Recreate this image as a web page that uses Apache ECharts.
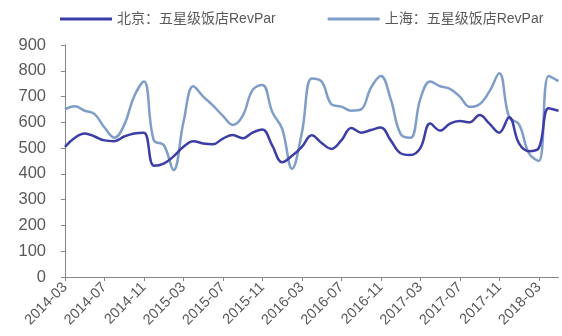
<!DOCTYPE html>
<html>
<head>
<meta charset="utf-8">
<script src="https://cdn.jsdelivr.net/npm/echarts@6/dist/echarts.min.js"></script>
<style>
  html, body { margin: 0; padding: 0; background: #ffffff; }
  #chart { width: 562px; height: 336px; }
</style>
</head>
<body>
<div id="chart"></div>
<script>
// Monthly RevPar of five-star hotels in Beijing and Shanghai, 2014-03 to 2018-05
const months = [
  '2014-03', '2014-04', '2014-05', '2014-06', '2014-07', '2014-08', '2014-09', '2014-10', '2014-11', '2014-12',
  '2015-01', '2015-02', '2015-03', '2015-04', '2015-05', '2015-06', '2015-07', '2015-08', '2015-09', '2015-10',
  '2015-11', '2015-12', '2016-01', '2016-02', '2016-03', '2016-04', '2016-05', '2016-06', '2016-07', '2016-08',
  '2016-09', '2016-10', '2016-11', '2016-12', '2017-01', '2017-02', '2017-03', '2017-04', '2017-05', '2017-06',
  '2017-07', '2017-08', '2017-09', '2017-10', '2017-11', '2017-12', '2018-01', '2018-02', '2018-03', '2018-04',
  '2018-05'
];

const beijingName = '北京：五星级饭店RevPar';
const shanghaiName = '上海：五星级饭店RevPar';

const beijingRevPar = [
  505, 540, 557, 545, 530, 527, 545, 557, 560, 432,
  440, 468, 505, 527, 518, 515, 537, 551, 538, 560,
  572, 510, 445, 470, 505, 550, 520, 497, 530, 578,
  560, 570, 580, 530, 480, 473, 500, 595, 568, 595,
  605, 600, 628, 595, 560, 620, 518, 488, 500, 655,
  645
];

const shanghaiRevPar = [
  650, 662, 645, 632, 580, 540, 590, 700, 758, 530,
  512, 415, 600, 740, 700, 665, 625, 590, 625, 725,
  745, 640, 575, 420, 560, 770, 758, 670, 661, 645,
  650, 735, 780, 690, 555, 540, 690, 758, 740, 730,
  700, 660, 670, 720, 790, 620, 592, 480, 450, 780,
  760
];

// y axis: 0 to 900 in steps of 100
const yMin = 0;
const yMax = 900;
const yStep = 100;

const chart = echarts.init(document.getElementById('chart'), null, { renderer: 'canvas' });

const textColor = '#595959';
const axisColor = '#868686';
const font = 'Arial, "Liberation Sans", "Noto Sans CJK SC", sans-serif';

chart.setOption({
  animation: false,
  backgroundColor: '#ffffff',
  legend: {
    top: 7,
    left: 55,
    right: 0,
    itemWidth: 52,
    itemHeight: 3,
    itemGap: 52,
    icon: 'rect',
    textStyle: { color: textColor, fontSize: 14, fontFamily: font },
    data: [beijingName, shanghaiName]
  },
  grid: { left: 65, right: 3.5, top: 45, bottom: 59, containLabel: false },
  xAxis: {
    type: 'category',
    boundaryGap: false,
    data: months,
    axisLine: { lineStyle: { color: axisColor, width: 1 } },
    axisTick: { interval: 3, length: 4, lineStyle: { color: axisColor } },
    axisLabel: {
      interval: 3,
      rotate: 45,
      color: textColor,
      fontSize: 14.5,
      fontFamily: font,
      margin: 8
    },
    splitLine: { show: false }
  },
  yAxis: {
    type: 'value',
    min: yMin,
    max: yMax,
    interval: yStep,
    axisLine: { show: true, lineStyle: { color: axisColor, width: 1 } },
    axisTick: { show: true, length: 4, lineStyle: { color: axisColor } },
    axisLabel: { color: textColor, fontSize: 16.5, fontFamily: font, margin: 19 },
    splitLine: { show: false }
  },
  series: [
    {
      name: beijingName,
      type: 'line',
      data: beijingRevPar,
      smooth: 0.4,
      showSymbol: false,
      lineStyle: { color: '#3d3da6', width: 2.5 },
      itemStyle: { color: '#3d3da6' },
      z: 3
    },
    {
      name: shanghaiName,
      type: 'line',
      data: shanghaiRevPar,
      smooth: 0.4,
      showSymbol: false,
      lineStyle: { color: '#7f9dc8', width: 2.5 },
      itemStyle: { color: '#7f9dc8' },
      z: 2
    }
  ]
});
</script>
</body>
</html>
